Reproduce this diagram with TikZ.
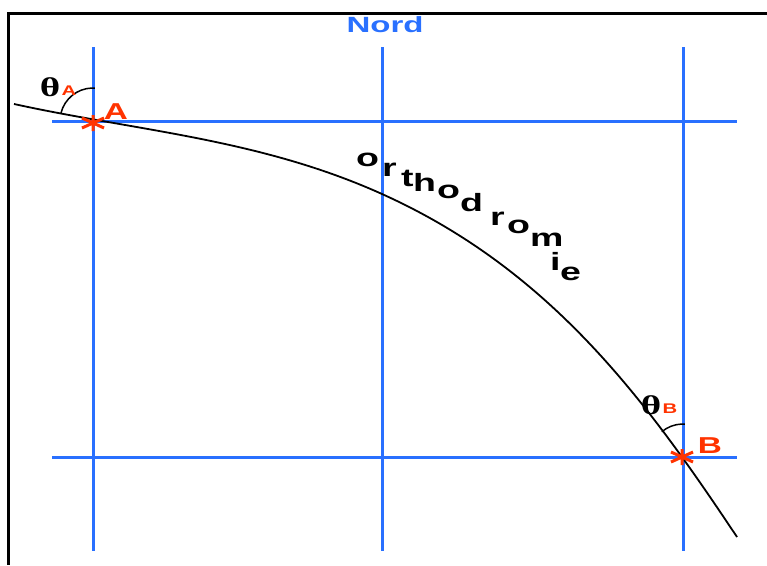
\documentclass[tikz,border=0pt]{standalone}
\usepackage{fontspec}
\usepackage{graphicx}
\setmainfont{Liberation Sans}
\newfontfamily\thetafont{Liberation Serif}
\definecolor{gridblue}{RGB}{41,112,255}
\definecolor{ptred}{RGB}{255,51,0}
\newcommand{\wide}[1]{\scalebox{1.5}[1]{#1}}
\newcommand{\widel}[1]{\scalebox{1.45}[1]{#1}}
\begin{document}
\begin{tikzpicture}[x=1pt,y=-1pt,
  gridline/.style={gridblue,line width=3pt},
  frameline/.style={black,line width=3.5pt},
  lettre/.style={font=\fontsize{25}{25}\selectfont\bfseries,inner sep=0pt,anchor=base west},
  redlabel/.style={ptred,font=\fontsize{23}{23}\selectfont\bfseries,inner sep=0pt},
  thetalabel/.style={font=\thetafont\fontsize{27}{27}\selectfont\bfseries,inner sep=0pt},
  sublabel/.style={ptred,font=\fontsize{14}{14}\selectfont\bfseries,inner sep=0pt},
  anglearc/.style={black,line width=1.5pt},
  etoile/.pic={\draw[ptred,line width=3pt] (0,-8)--(0,8) (-11,-5)--(11,5) (-11,5)--(11,-5);}
]
\useasboundingbox[fill=white] (0,0) rectangle (767,565);
% frame
\draw[frameline] (7,13.5) -- (767,13.5);
\draw[frameline] (8.5,12) -- (8.5,565);
% grid
\coordinate (v1t) at (93,47);  \coordinate (v1b) at (93,551);
\coordinate (v2t) at (382,47); \coordinate (v2b) at (382,551);
\coordinate (v3t) at (683,47); \coordinate (v3b) at (683,551);
\coordinate (h1l) at (52,121); \coordinate (h1r) at (737,121);
\coordinate (h2l) at (52,457); \coordinate (h2r) at (737,457);
\draw[gridline] (v1t) -- (v1b);
\draw[gridline] (v2t) -- (v2b);
\draw[gridline] (v3t) -- (v3b);
\draw[gridline] (h1l) -- (h1r);
\draw[gridline] (h2l) -- (h2r);
\node[gridblue,font=\fontsize{22}{22}\selectfont\bfseries,inner sep=0pt] (nord) at (385,25) {\wide{Nord}};
% points
\coordinate (A) at (93,121);
\coordinate (B) at (683,457);
\coordinate (start) at (14,104);
\coordinate (mid) at (382,194);
\coordinate (end) at (737,537);
% orthodromie
\draw[black,line width=1.8pt] (start) .. controls (137,131) and (259,138.6) .. (mid)
  .. controls (552,270.5) and (647,402) .. (end);
% angle arcs
\draw[anglearc] ([shift={(A)}]194:33) arc[start angle=194,end angle=268,radius=33] -- ++(3,0);
\draw[anglearc] ([shift={(B)}]230:33) arc[start angle=230,end angle=268,radius=33] -- ++(3,0);
% stars
\pic at (93,123) {etoile};
\pic at (682,457) {etoile};
% labels
\node[redlabel] (labA) at (116,112) {\widel{A}};
\node[redlabel] (labB) at (710,446) {\widel{B}};
\node[thetalabel] (thA) at (50,87) {\widel{θ}};
\node[sublabel] (subA) at (69,91) {\widel{A}};
\node[thetalabel] (thB) at (651,405) {\widel{θ}};
\node[sublabel] (subB) at (670,409) {\widel{B}};
% letters
\node[lettre] (l1) at (356,166) {\wide{o}};
\node[lettre] (l2) at (382,176.7) {\wide{r}};
\node[lettre] (l3) at (401,186.7) {\wide{t}};
\node[lettre] (l4) at (413,191.7) {\wide{h}};
\node[lettre] (l5) at (437,198.3) {\wide{o}};
\node[lettre] (l6) at (460,211.7) {\wide{d}};
\node[lettre] (l7) at (490,225) {\wide{r}};
\node[lettre] (l8) at (507,233.3) {\wide{o}};
\node[lettre] (l9) at (530,246.7) {\wide{m}};
\node[lettre] (l10) at (550,270) {\wide{i}};
\node[lettre] (l11) at (560,280) {\wide{e}};
\end{tikzpicture}
\end{document}
